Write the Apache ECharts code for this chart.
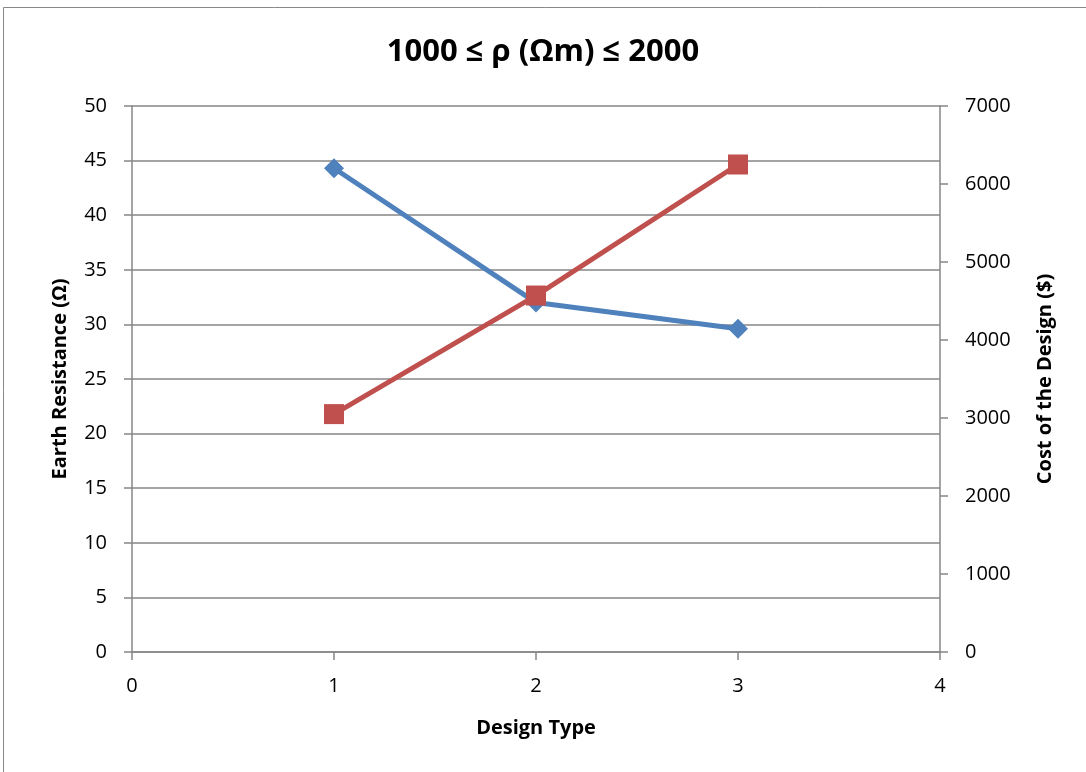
<!DOCTYPE html>
<html>
<head>
<meta charset="utf-8">
<script src="https://cdn.jsdelivr.net/npm/echarts@6/dist/echarts.min.js"></script>
<style>
  html, body { margin: 0; padding: 0; background: #fff; }
  #chart { width: 1086px; height: 772px; }
</style>
</head>
<body>
<div id="chart"></div>
<script>
// Design types on the x axis
const designTypes = [1, 2, 3];
// Earth resistance (Ω) for each design
const earthResistance = [44.3, 32.0, 29.6];
// Cost of each design ($)
const designCost = [3050, 4570, 6250];

const FONT = '"Open Sans", "Noto Sans", sans-serif';
const AXIS_GRAY = '#868686';

const chart = echarts.init(document.getElementById('chart'));
chart.setOption({
  backgroundColor: '#fff',
  animation: false,
  title: {
    text: '1000 ≤ ρ (Ωm) ≤ 2000',
    left: 'center',
    top: 32,
    textStyle: { fontFamily: FONT, fontSize: 31, fontWeight: 'bold', color: '#000' }
  },
  graphic: [{
    type: 'rect',
    shape: { x: 3.5, y: 7.5, width: 1090, height: 775 },
    style: { fill: 'none', stroke: '#888', lineWidth: 1 },
    silent: true
  }],
  grid: { left: 132, right: 146, top: 106, bottom: 120 },
  xAxis: {
    type: 'value',
    min: 0, max: 4, interval: 1,
    name: 'Design Type',
    nameLocation: 'middle',
    nameGap: 66,
    nameTextStyle: { fontFamily: FONT, fontSize: 20, fontWeight: 'bold', color: '#000' },
    axisLine: { lineStyle: { color: AXIS_GRAY, width: 1.5 } },
    axisTick: { show: true, length: 8, lineStyle: { color: AXIS_GRAY, width: 1.5 } },
    axisLabel: { fontFamily: FONT, fontSize: 20, color: '#000', margin: 24 },
    splitLine: { show: false }
  },
  yAxis: [{
    type: 'value',
    min: 0, max: 50, interval: 5,
    name: 'Earth Resistance (Ω)',
    nameLocation: 'middle',
    nameGap: 62,
    nameRotate: 90,
    nameTextStyle: { fontFamily: FONT, fontSize: 20, fontWeight: 'bold', color: '#000' },
    axisLine: { show: true, lineStyle: { color: AXIS_GRAY, width: 1.5 } },
    axisTick: { show: true, length: 8, lineStyle: { color: AXIS_GRAY, width: 1.5 } },
    axisLabel: { fontFamily: FONT, fontSize: 20, color: '#000', margin: 25 },
    splitLine: { show: true, lineStyle: { color: AXIS_GRAY, width: 1.5 } }
  }, {
    type: 'value',
    min: 0, max: 7000, interval: 1000,
    position: 'right',
    name: 'Cost of the Design ($)',
    nameLocation: 'middle',
    nameGap: 95,
    nameRotate: 90,
    nameTextStyle: { fontFamily: FONT, fontSize: 20, fontWeight: 'bold', color: '#000' },
    axisLine: { show: true, lineStyle: { color: AXIS_GRAY, width: 1.5 } },
    axisTick: { show: true, length: 8, lineStyle: { color: AXIS_GRAY, width: 1.5 } },
    axisLabel: { fontFamily: FONT, fontSize: 20, color: '#000', margin: 25, formatter: v => String(v) },
    splitLine: { show: false }
  }],
  series: [{
    name: 'Earth Resistance',
    type: 'line',
    yAxisIndex: 0,
    data: designTypes.map((x, i) => [x, earthResistance[i]]),
    symbol: 'diamond',
    symbolSize: 20,
    lineStyle: { color: '#4F81BD', width: 5 },
    itemStyle: { color: '#4F81BD' },
    z: 2
  }, {
    name: 'Cost',
    type: 'line',
    yAxisIndex: 1,
    data: designTypes.map((x, i) => [x, designCost[i]]),
    symbol: 'rect',
    symbolSize: 20,
    lineStyle: { color: '#C0504D', width: 5 },
    itemStyle: { color: '#C0504D' },
    z: 3
  }]
});
</script>
</body>
</html>
